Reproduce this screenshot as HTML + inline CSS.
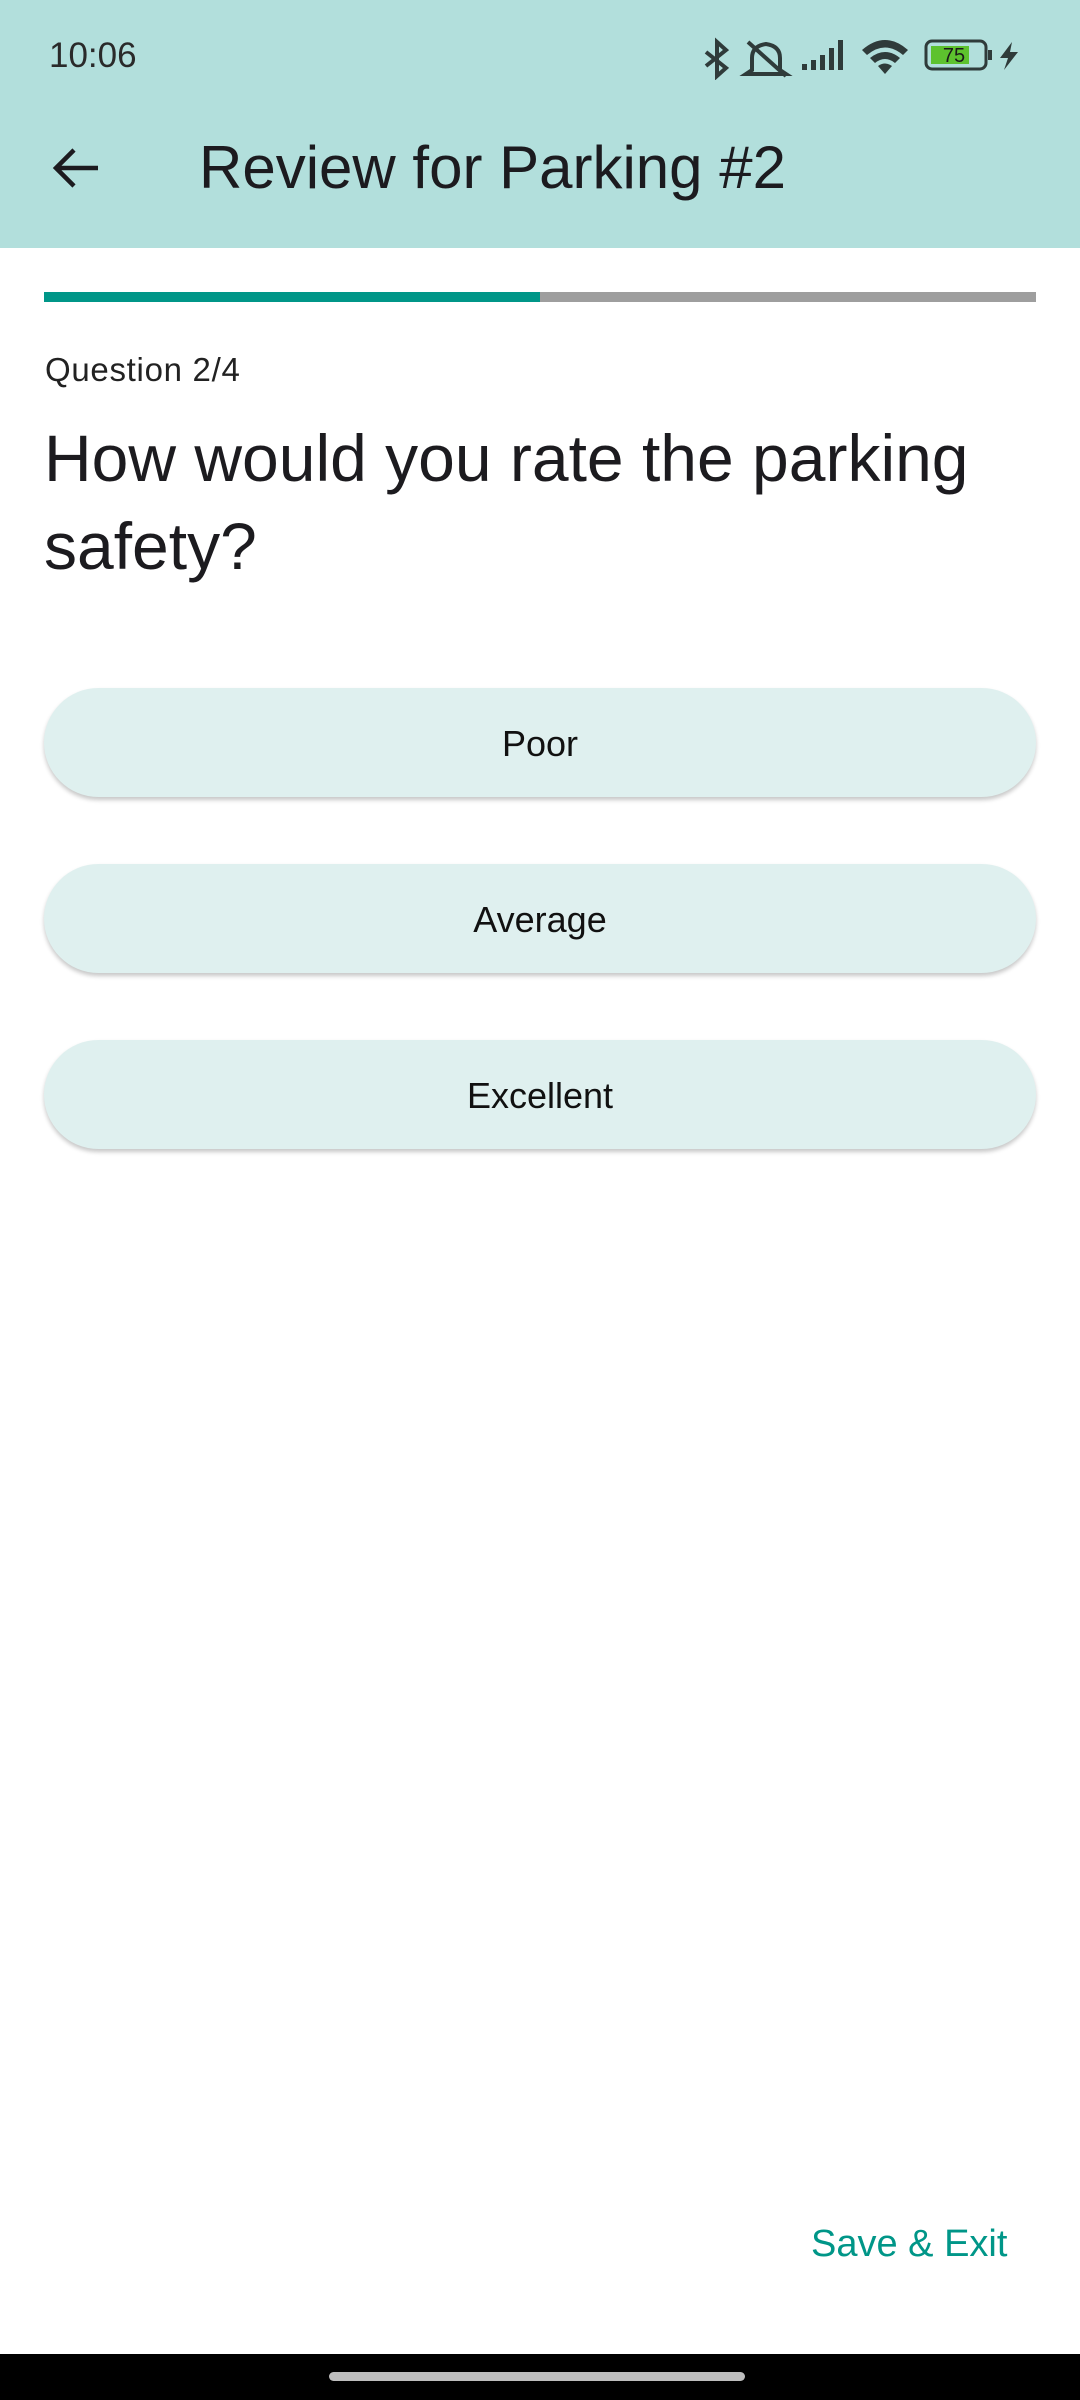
<!DOCTYPE html>
<html><head><meta charset="utf-8"><style>
*{margin:0;padding:0;box-sizing:border-box}
body{width:1080px;height:2400px;background:#fff;font-family:"Liberation Sans",sans-serif;position:relative;overflow:hidden;color:#1c1b1f}
.abs{position:absolute}
#top{left:0;top:0;width:1080px;height:248px;background:#b2dfdc}
.btn{position:absolute;left:44px;width:992px;height:109px;border-radius:55px;background:#dff0ef;box-shadow:0 3px 4px rgba(0,0,0,0.22);font-size:36px;color:#111;display:flex;align-items:center;justify-content:center;padding-top:2px}
</style></head><body>
<div id="top" class="abs"></div>
<div class="abs" style="left:49px;top:36px;font-size:35px;color:#2a2a2a">10:06</div>
<svg class="abs" style="left:690px;top:30px" width="340" height="50">
 <g stroke="#2f3b3a" stroke-width="4" fill="none">
  <path d="M16 22 L36 38 L27 46 L27 12 L36 20 L16 36"/>
  <path d="M62 40 L62 28 Q62 16 76 14 Q90 16 90 28 L90 40 L96 44 L56 44 Z"/>
  <line x1="58" y1="12" x2="96" y2="46"/>
 </g>
 <g fill="#2f3b3a">
  <rect x="112" y="34" width="5" height="6"/><rect x="121" y="30" width="5" height="10"/><rect x="130" y="25" width="5" height="15"/><rect x="139" y="18" width="5" height="22"/><rect x="148" y="10" width="5" height="30"/>
  <path d="M172 20 Q195 0 218 20 L213 25 Q195 10 177 25 Z"/><path d="M180 28 Q195 16 210 28 L205 33 Q195 25 185 33 Z"/><path d="M188 36 Q195 31 202 36 L195 44 Z"/>
 </g>
 <rect x="236" y="11" width="60" height="28" rx="6" fill="none" stroke="#2f3b3a" stroke-width="3"/>
 <rect x="241" y="16" width="38" height="18" fill="#5dc22e"/>
 <rect x="298" y="20" width="4" height="10" fill="#2f3b3a"/>
 <text x="264" y="32" font-size="20" text-anchor="middle" fill="#1a1a1a" font-family="Liberation Sans">75</text>
 <path d="M322 12 L310 28 L318 28 L314 40 L328 22 L320 22 Z" fill="#2f3b3a"/>
</svg>
<svg class="abs" style="left:52px;top:146px" width="50" height="44"><path d="M4 22 H46 M22 4 L4 22 L22 40" stroke="#1c1b1f" stroke-width="4.5" fill="none"/></svg>
<div class="abs" style="left:199px;top:133px;font-size:60px;color:#1c1b1f">Review for Parking #2</div>
<div class="abs" style="left:44px;top:292px;width:992px;height:10px;background:#9e9e9e"></div>
<div class="abs" style="left:44px;top:292px;width:496px;height:10px;background:#009688"></div>
<div class="abs" style="left:45px;top:351px;font-size:33px;color:#222;letter-spacing:0.7px">Question 2/4</div>
<div class="abs" style="left:44px;top:414px;width:1010px;font-size:66px;line-height:88px;color:#1c1b1f">How would you rate the parking safety?</div>
<div class="btn" style="top:688px">Poor</div>
<div class="btn" style="top:864px">Average</div>
<div class="btn" style="top:1040px">Excellent</div>
<div class="abs" style="left:811px;top:2223px;font-size:38px;color:#009688">Save &amp; Exit</div>
<div class="abs" style="left:0;top:2354px;width:1080px;height:46px;background:#000"></div>
<div class="abs" style="left:329px;top:2372px;width:416px;height:9px;border-radius:5px;background:#bdbdbd"></div>
</body></html>
